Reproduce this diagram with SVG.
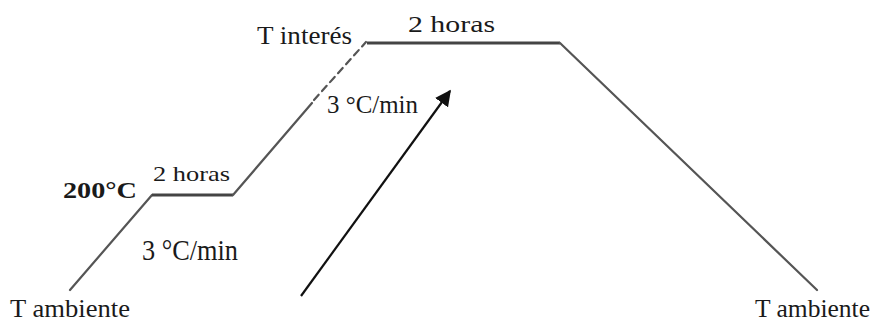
<svg xmlns="http://www.w3.org/2000/svg" width="877" height="325" viewBox="0 0 877 325">
<style>
.t{font-family:"Liberation Serif","Times New Roman",serif;fill:#1a1a1a}
.ln{stroke:#555;stroke-width:2.2;fill:none;stroke-linecap:round}
.hz{stroke:#444;stroke-width:3;fill:none}
</style>
<defs>
<marker id="ah2" viewBox="0 0 10 10" refX="9" refY="5" markerWidth="16" markerHeight="16" markerUnits="userSpaceOnUse" orient="auto">
<path d="M0,0 L10,5 L0,10 z" fill="#111"/>
</marker>
</defs>
<rect width="877" height="325" fill="#fff"/>
<g id="connectors">
<path class="ln" d="M70,290 L152,195"/>
<path class="hz" d="M152,195 L233,195"/>
<path class="ln" d="M233,195 L312,103"/>
<path class="ln" d="M314,100 L366,42" stroke-dasharray="7 5"/>
<path class="hz" d="M367,43 L560,43"/>
<path class="ln" d="M560,43 L817,290"/>
<path d="M301,296 L450,91" stroke="#111" stroke-width="2.2" fill="none" marker-end="url(#ah2)"/>
</g>
<g id="label-tamb-left"><text class="t" x="10" y="317" font-size="26" textLength="120" lengthAdjust="spacingAndGlyphs">T ambiente</text></g>
<g id="label-200"><text class="t" x="63" y="198" font-size="23" font-weight="bold" textLength="74" lengthAdjust="spacingAndGlyphs">200°C</text></g>
<g id="label-2h-low"><text class="t" x="153" y="181" font-size="21" textLength="77" lengthAdjust="spacingAndGlyphs">2 horas</text></g>
<g id="label-rate-low"><text class="t" x="142" y="260" font-size="30" textLength="96" lengthAdjust="spacingAndGlyphs">3 °C/min</text></g>
<g id="label-tint"><text class="t" x="257" y="44" font-size="25" textLength="95" lengthAdjust="spacingAndGlyphs">T interés</text></g>
<g id="label-2h-top"><text class="t" x="408" y="32" font-size="23" textLength="87" lengthAdjust="spacingAndGlyphs">2 horas</text></g>
<g id="label-rate-top"><text class="t" x="327" y="113" font-size="26" textLength="91" lengthAdjust="spacingAndGlyphs">3 °C/min</text></g>
<g id="label-tamb-right"><text class="t" x="755" y="317" font-size="26" textLength="115" lengthAdjust="spacingAndGlyphs">T ambiente</text></g>
</svg>
